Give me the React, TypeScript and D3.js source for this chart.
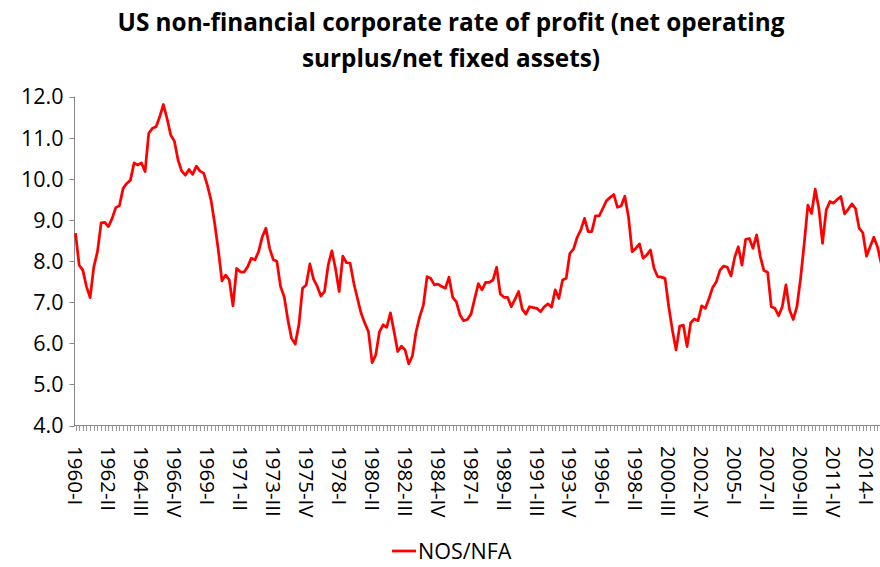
import React, { useRef, useEffect } from 'react';
import * as d3 from 'd3';

// Quarterly rate of profit, 1960-I .. 2015-I
const nosNfa = [
  8.68, 7.90, 7.78, 7.38, 7.11, 7.86, 8.23, 8.93, 8.94, 8.84,
  9.04, 9.30, 9.35, 9.77, 9.89, 9.97, 10.39, 10.34, 10.39, 10.18,
  11.11, 11.23, 11.27, 11.51, 11.81, 11.47, 11.07, 10.92, 10.46, 10.19,
  10.09, 10.23, 10.11, 10.31, 10.19, 10.14, 9.85, 9.49, 8.92, 8.27,
  7.52, 7.66, 7.54, 6.91, 7.82, 7.74, 7.73, 7.86, 8.07, 8.03,
  8.23, 8.59, 8.80, 8.31, 8.04, 7.99, 7.38, 7.13, 6.57, 6.12,
  5.98, 6.45, 7.34, 7.42, 7.93, 7.56, 7.39, 7.15, 7.26, 7.90,
  8.25, 7.82, 7.26, 8.12, 7.96, 7.95, 7.46, 7.09, 6.73, 6.49,
  6.28, 5.53, 5.72, 6.28, 6.45, 6.39, 6.74, 6.28, 5.80, 5.93,
  5.84, 5.50, 5.69, 6.28, 6.65, 6.93, 7.62, 7.58, 7.42, 7.44,
  7.38, 7.34, 7.61, 7.12, 7.01, 6.69, 6.55, 6.58, 6.71, 7.08,
  7.45, 7.30, 7.48, 7.48, 7.54, 7.85, 7.20, 7.12, 7.12, 6.89,
  7.07, 7.26, 6.83, 6.71, 6.89, 6.87, 6.85, 6.77, 6.89, 6.96,
  6.88, 7.30, 7.09, 7.54, 7.58, 8.19, 8.29, 8.58, 8.76, 9.04,
  8.72, 8.72, 9.10, 9.10, 9.28, 9.47, 9.55, 9.62, 9.31, 9.34,
  9.58, 9.08, 8.23, 8.31, 8.42, 8.07, 8.15, 8.27, 7.82, 7.62,
  7.61, 7.58, 6.89, 6.32, 5.84, 6.42, 6.44, 5.92, 6.50, 6.59,
  6.55, 6.91, 6.85, 7.09, 7.36, 7.50, 7.78, 7.88, 7.85, 7.64,
  8.09, 8.35, 7.90, 8.53, 8.55, 8.31, 8.64, 8.11, 7.77, 7.73,
  6.89, 6.85, 6.67, 6.89, 7.42, 6.81, 6.58, 6.89, 7.58, 8.43,
  9.36, 9.16, 9.75, 9.28, 8.43, 9.24, 9.45, 9.41, 9.50, 9.57,
  9.15, 9.26, 9.39, 9.28, 8.80, 8.69, 8.12, 8.35, 8.58, 8.35,
  7.95,
];

const romans = ['I', 'II', 'III', 'IV'];
const startYear = 1960;
const quarters = nosNfa.map((_, i) => `${startYear + Math.floor(i / 4)}-${romans[i % 4]}`);
const yTicks = [4, 5, 6, 7, 8, 9, 10, 11, 12];
const labelEvery = 9;
const titleLines = ['US non-financial corporate rate of profit (net operating', 'surplus/net fixed assets)'];
const seriesName = 'NOS/NFA';

const W = 880;
const H = 567;
const font = '"Open Sans", sans-serif';

const App = () => {
  const ref = useRef(null);

  useEffect(() => {
    const svg = d3.select(ref.current);
    svg.selectAll('*').remove();

    const x0 = 75.5;
    const step = 3.662;
    const x = d3.scalePoint()
      .domain(quarters)
      .range([x0, x0 + step * (quarters.length - 1)]);
    const y = d3.scaleLinear().domain([4, 12]).range([425.5, 96.7]);

    // title
    svg.append('g')
      .selectAll('text')
      .data(titleLines)
      .enter()
      .append('text')
      .attr('x', 451)
      .attr('y', (d, i) => 31 + i * 36)
      .attr('text-anchor', 'middle')
      .attr('font-family', font)
      .attr('font-weight', 'bold')
      .attr('font-size', 24.3)
      .attr('fill', '#000')
      .text(d => d);

    // y axis
    const yAxis = svg.append('g').attr('transform', 'translate(74.5,0)');
    yAxis.append('line')
      .attr('y1', y(12)).attr('y2', y(4))
      .attr('stroke', '#868686').attr('stroke-width', 1);
    yAxis.selectAll('.yt')
      .data(yTicks)
      .enter()
      .append('line')
      .attr('x1', -5).attr('x2', 0)
      .attr('y1', d => Math.round(y(d)) + 0.5).attr('y2', d => Math.round(y(d)) + 0.5)
      .attr('stroke', '#868686');
    yAxis.selectAll('.yl')
      .data(yTicks)
      .enter()
      .append('text')
      .attr('x', -11)
      .attr('y', d => y(d))
      .attr('dy', '0.36em')
      .attr('text-anchor', 'end')
      .attr('font-family', font)
      .attr('font-size', 21.5)
      .attr('fill', '#000')
      .text(d => d.toFixed(1));

    // x axis
    const xAxis = svg.append('g');
    xAxis.append('line')
      .attr('x1', 74).attr('x2', W)
      .attr('y1', 425.5).attr('y2', 425.5)
      .attr('stroke', '#868686');
    xAxis.selectAll('.xt')
      .data(quarters)
      .enter()
      .append('line')
      .attr('x1', d => Math.round(x(d)) + 0.5).attr('x2', d => Math.round(x(d)) + 0.5)
      .attr('y1', 425.5).attr('y2', 431)
      .attr('stroke', '#9a9a9a');
    xAxis.selectAll('.xl')
      .data(quarters.filter((d, i) => i % labelEvery === 0))
      .enter()
      .append('text')
      .attr('transform', d => `translate(${x(d)},446) rotate(90)`)
      .attr('dy', '0.36em')
      .attr('font-family', font)
      .attr('font-size', 20.5)
      .attr('fill', '#000')
      .text(d => d);

    // series line
    const line = d3.line()
      .x((d, i) => x(quarters[i]))
      .y(d => y(d));
    svg.append('path')
      .datum(nosNfa)
      .attr('d', line)
      .attr('fill', 'none')
      .attr('stroke', '#ff0000')
      .attr('stroke-width', 2.75)
      .attr('stroke-linejoin', 'round');

    // legend
    const legend = svg.append('g').attr('transform', 'translate(392,551)');
    legend.append('line')
      .attr('x1', 0).attr('x2', 24)
      .attr('stroke', '#ff0000').attr('stroke-width', 2.75);
    legend.append('text')
      .attr('x', 26)
      .attr('dy', '0.36em')
      .attr('font-family', font)
      .attr('font-size', 21.5)
      .attr('fill', '#000')
      .text(seriesName);
  }, []);

  return (
    <svg
      ref={ref}
      width={W}
      height={H}
      style={{ position: 'absolute', left: 0, top: 0, background: '#fff' }}
    />
  );
};

export default App;
